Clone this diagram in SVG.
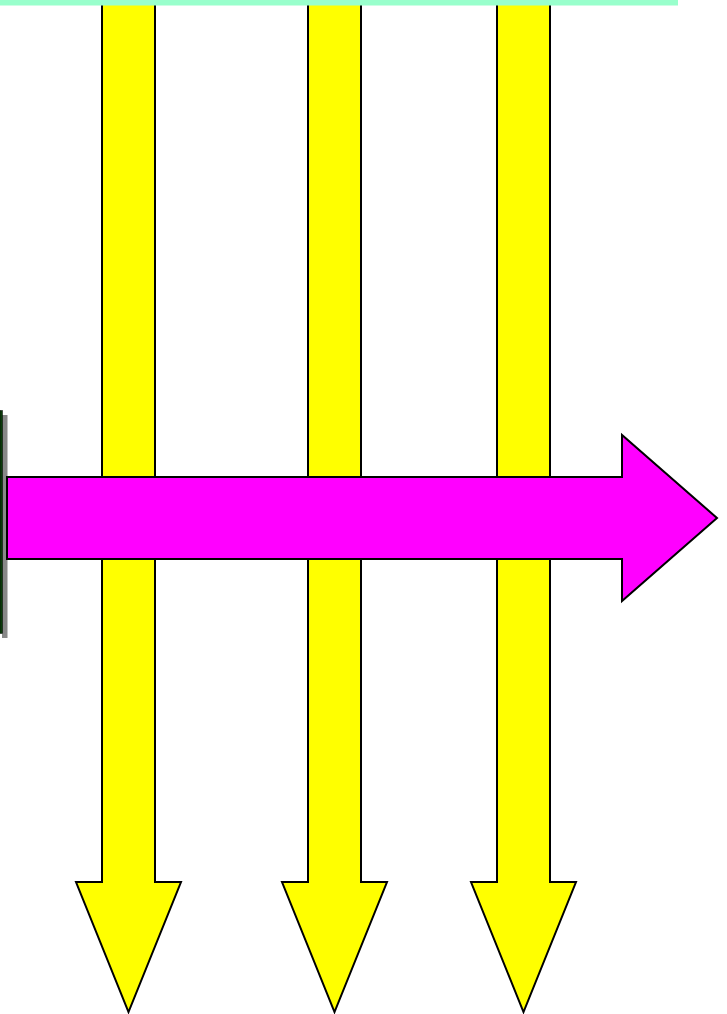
<svg xmlns="http://www.w3.org/2000/svg" width="727" height="1014" viewBox="0 0 727 1014">
<style>
.ya{fill:#ffff00;stroke:#000;stroke-width:2;stroke-linejoin:miter}
.ma{fill:#ff00ff;stroke:#000;stroke-width:2;stroke-linejoin:miter}
</style>
<rect width="727" height="1014" fill="#fff"/>
<g id="arrow1"><polygon class="ya" points="102,0 155,0 155,882 181,882 128.5,1012 76,882 102,882"/></g>
<g id="arrow2"><polygon class="ya" points="308,0 361,0 361,882 387,882 334.5,1012 282,882 308,882"/></g>
<g id="arrow3"><polygon class="ya" points="497,0 550,0 550,882 576,882 523.5,1012 471,882 497,882"/></g>
<g id="topbar"><rect x="0" y="0" width="678" height="5.5" fill="#99ffcc"/></g>
<g id="leftbar">
<rect x="2" y="415" width="5.5" height="223" fill="#888"/>
<rect x="0" y="410.5" width="2.5" height="223" fill="#0a3a0a" stroke="#000" stroke-width="0.5"/>
</g>
<g id="connectors"><polygon class="ma" points="7,477 622,477 622,435 717,518 622,601 622,559 7,559"/></g>
</svg>
